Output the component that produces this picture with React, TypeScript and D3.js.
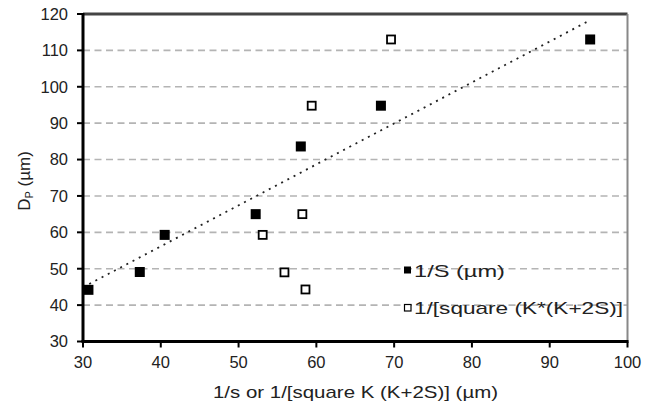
import * as d3 from "d3";

// filled squares: 1/S
const sX = [30.7, 37.3, 40.5, 52.2, 58.0, 68.3, 95.2];
const sY = [44.2, 49.1, 59.3, 65.0, 83.6, 94.8, 113.0];

// open squares: 1/[square K*(K+2S)]
const kX = [53.1, 55.9, 58.2, 58.6, 59.4, 69.6];
const kY = [59.3, 49.0, 65.0, 44.3, 94.8, 113.0];

// dotted trend line endpoints
const trendX = [30.8, 95.2];
const trendY = [45.8, 118.3];

const xTicks = [30, 40, 50, 60, 70, 80, 90, 100];
const yTicks = [30, 40, 50, 60, 70, 80, 90, 100, 110, 120];

const W = 655;
const H = 407;
const m = { left: 83, top: 14, right: 627.5, bottom: 341.5 };
const FONT = "'Liberation Sans', Arial, sans-serif";

export default function App() {
  const x = d3.scaleLinear().domain([30, 100]).range([m.left, m.right]);
  const y = d3.scaleLinear().domain([30, 120]).range([m.bottom, m.top]);
  const sz = 10;

  const trend = d3.line<number>()
    .x((d) => x(d))
    .y((_, i) => y(trendY[i]));

  return (
    <svg
      width={W}
      height={H}
      style={{ position: "absolute", left: 0, top: 0, background: "#fff" }}
      fontFamily={FONT}
    >
      {/* grid */}
      {yTicks
        .filter((t) => t > 30 && t < 120)
        .map((t) => (
          <line
            key={"g" + t}
            x1={m.left}
            x2={m.right}
            y1={y(t)}
            y2={y(t)}
            stroke="#b4b4b4"
            strokeWidth={1.6}
            strokeDasharray="7,4.5"
          />
        ))}

      {/* frame: top and right */}
      <line x1={m.left} x2={m.right} y1={m.top} y2={m.top} stroke="#444" strokeWidth={2.8} />
      <line x1={m.right} x2={m.right} y1={m.top} y2={m.bottom} stroke="#888" strokeWidth={2} />

      {/* trend */}
      <path
        d={trend(trendX) || ""}
        fill="none"
        stroke="#222"
        strokeWidth={1.8}
        strokeDasharray="2,5"
      />

      {/* filled points */}
      {sX.map((v, i) => (
        <rect
          key={"s" + i}
          x={x(v) - sz / 2}
          y={y(sY[i]) - sz / 2}
          width={sz}
          height={sz}
          fill="#000"
        />
      ))}
      {/* open points */}
      {kX.map((v, i) => (
        <rect
          key={"k" + i}
          x={x(v) - (sz - 2) / 2}
          y={y(kY[i]) - (sz - 2) / 2}
          width={sz - 2}
          height={sz - 2}
          fill="#fff"
          stroke="#000"
          strokeWidth={1.8}
        />
      ))}

      {/* axes */}
      <line x1={m.left} x2={m.left} y1={m.top - 1} y2={m.bottom} stroke="#000" strokeWidth={3} />
      <line x1={m.left - 1.5} x2={m.right + 1} y1={m.bottom} y2={m.bottom} stroke="#000" strokeWidth={3} />

      {yTicks.map((t) => (
        <g key={"y" + t}>
          <line x1={m.left - 6} x2={m.left} y1={y(t)} y2={y(t)} stroke="#000" strokeWidth={2} />
          <text x={68} y={y(t)} dy="0.36em" textAnchor="end" fontSize={16.5} fill="#222">
            {t}
          </text>
        </g>
      ))}
      {xTicks.map((t) => (
        <g key={"x" + t}>
          <line x1={x(t)} x2={x(t)} y1={m.bottom} y2={m.bottom + 6} stroke="#000" strokeWidth={2} />
          <text x={x(t)} y={368} textAnchor="middle" fontSize={16.5} fill="#222">
            {t}
          </text>
        </g>
      ))}

      {/* axis titles */}
      <text x={213} y={398} fontSize={17} fill="#222" textLength={285} lengthAdjust="spacingAndGlyphs">
        1/s or 1/[square K (K+2S)] (µm)
      </text>
      <text
        transform={`translate(30,181) rotate(-90)`}
        textAnchor="middle"
        fontSize={17}
        fill="#222"
      >
        D<tspan fontSize={11} dy="3">P</tspan>
        <tspan dy="-3"> (µm)</tspan>
      </text>

      {/* legend */}
      <rect x={404} y={266.5} width={7} height={7} fill="#000" />
      <text x={414} y={277} fontSize={17} fill="#222" textLength={91} lengthAdjust="spacingAndGlyphs">
        1/S (µm)
      </text>
      <rect x={404.5} y={304.5} width={6.5} height={6.5} fill="#fff" stroke="#000" strokeWidth={1.2} />
      <text x={414} y={314} fontSize={17} fill="#222" textLength={209} lengthAdjust="spacingAndGlyphs">
        1/[square (K*(K+2S)]
      </text>
    </svg>
  );
}
